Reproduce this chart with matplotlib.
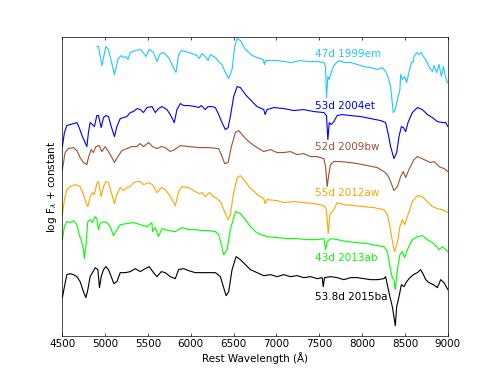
import numpy as np
import matplotlib
matplotlib.use('Agg')
import matplotlib.pyplot as plt

## 光谱数据 (波长 Å, log F + 常数)
wl_99em = [4904, 4923, 4963, 5010, 5040, 5110, 5150, 5188, 5215, 5243, 5267, 5294, 5352, 5411, 5437,
           5477, 5516, 5566, 5606, 5644, 5683, 5741, 5828, 5858, 5890, 5937, 6015, 6073, 6100, 6132,
           6170, 6202, 6229, 6287, 6326, 6365, 6404, 6443, 6482, 6513, 6541, 6579, 6638, 6716, 6774,
           6845, 6860, 6872, 6930, 7008, 7085, 7164, 7281, 7359, 7476, 7553, 7573, 7584, 7600, 7616,
           7631, 7663, 7701, 7728, 7787, 7865, 7943, 8020, 8099, 8177, 8235, 8274, 8301, 8332, 8364,
           8387, 8411, 8441, 8449, 8469, 8496, 8519, 8546, 8574, 8598, 8605, 8637, 8663, 8691, 8715,
           8742, 8780, 8820, 8839, 8870, 8897, 8925, 8948, 8975, 8995]
fl_99em = [289, 289, 270, 289, 286, 261, 276, 280, 278, 279, 276, 283, 285, 286, 284,
           279, 286, 283, 274, 282, 283, 278, 263, 281, 285, 284, 282, 280, 277, 282,
           279, 275, 281, 278, 274, 271, 263, 257, 266, 289, 297, 295, 286, 280, 278,
           276, 271, 275, 275, 275, 274, 273, 275, 274, 274, 273, 269, 238, 259, 256,
           261, 269, 273, 275, 273, 273, 271, 269, 268, 266, 268, 264, 259, 249, 223,
           226, 236, 246, 261, 256, 259, 253, 263, 273, 274, 279, 283, 281, 283, 279,
           276, 269, 264, 270, 263, 271, 259, 269, 258, 253]

wl_04et = [4502, 4526, 4554, 4592, 4631, 4671, 4698, 4736, 4788, 4806, 4826, 4853, 4876, 4904, 4923,
           4955, 4982, 5010, 5040, 5072, 5110, 5138, 5177, 5215, 5255, 5294, 5332, 5372, 5411, 5449,
           5489, 5547, 5586, 5624, 5664, 5722, 5761, 5808, 5839, 5878, 5917, 5975, 6053, 6092, 6123,
           6170, 6202, 6249, 6287, 6326, 6365, 6404, 6436, 6462, 6501, 6541, 6579, 6638, 6716, 6774,
           6852, 6868, 6891, 6968, 7085, 7202, 7319, 7436, 7553, 7584, 7600, 7616, 7639, 7670, 7709,
           7768, 7865, 7982, 8099, 8216, 8274, 8301, 8332, 8371, 8403, 8430, 8458, 8481, 8508, 8535,
           8586, 8645, 8703, 8761, 8820, 8878, 8936, 8975, 9000]
fl_04et = [189, 203, 210, 211, 212, 213, 208, 199, 189, 203, 213, 211, 209, 220, 220,
           208, 218, 220, 219, 209, 199, 209, 217, 218, 219, 223, 224, 227, 226, 223,
           228, 229, 223, 227, 229, 226, 221, 213, 226, 232, 230, 230, 229, 228, 230,
           226, 229, 229, 228, 221, 213, 206, 208, 219, 239, 249, 248, 241, 234, 229,
           226, 221, 226, 228, 227, 225, 226, 224, 223, 220, 196, 213, 211, 214, 220,
           221, 220, 219, 217, 215, 213, 203, 189, 177, 183, 199, 209, 208, 204, 213,
           223, 228, 226, 221, 218, 214, 213, 213, 209]

wl_09bw = [4502, 4534, 4572, 4631, 4671, 4709, 4748, 4788, 4806, 4838, 4865, 4893, 4931, 4963, 5001,
           5040, 5080, 5110, 5150, 5197, 5255, 5313, 5372, 5411, 5449, 5508, 5554, 5606, 5656, 5703,
           5761, 5811, 5878, 5975, 6092, 6209, 6326, 6365, 6396, 6436, 6474, 6521, 6559, 6618, 6676,
           6755, 6774, 6852, 6930, 7008, 7085, 7164, 7242, 7319, 7397, 7476, 7553, 7573, 7592, 7611,
           7631, 7670, 7748, 7865, 7943, 8060, 8177, 8254, 8294, 8332, 8371, 8411, 8449, 8481, 8508,
           8546, 8605, 8645, 8722, 8800, 8839, 8897, 8955, 9000]
fl_09bw = [166, 183, 187, 188, 185, 178, 173, 171, 178, 186, 183, 189, 190, 184, 189,
           184, 178, 173, 179, 185, 187, 189, 189, 192, 189, 193, 189, 187, 189, 188,
           184, 186, 190, 189, 188, 188, 187, 179, 172, 173, 189, 203, 205, 199, 194,
           189, 188, 184, 186, 183, 183, 184, 181, 182, 179, 179, 177, 169, 149, 161,
           171, 174, 174, 173, 172, 170, 168, 164, 161, 154, 145, 149, 159, 164, 158,
           166, 176, 179, 176, 173, 174, 169, 167, 164]

wl_12aw = [4502, 4526, 4554, 4592, 4651, 4709, 4748, 4776, 4799, 4826, 4853, 4876, 4904, 4923, 4955,
           4982, 5010, 5040, 5080, 5110, 5138, 5177, 5215, 5255, 5294, 5332, 5372, 5411, 5449, 5508,
           5554, 5606, 5656, 5703, 5761, 5820, 5858, 5898, 5975, 6053, 6100, 6132, 6170, 6217, 6267,
           6307, 6346, 6384, 6436, 6462, 6501, 6541, 6579, 6638, 6696, 6755, 6774, 6852, 6868, 6891,
           7008, 7085, 7202, 7319, 7436, 7553, 7584, 7604, 7623, 7639, 7670, 7709, 7787, 7904, 8020,
           8137, 8254, 8294, 8324, 8364, 8379, 8411, 8441, 8469, 8496, 8528, 8586, 8645, 8703, 8761,
           8820, 8878, 8936, 8995]
fl_12aw = [121, 136, 146, 149, 151, 149, 141, 133, 129, 139, 143, 141, 152, 154, 139,
           149, 154, 153, 141, 132, 141, 148, 145, 148, 149, 153, 154, 154, 151, 153,
           151, 143, 148, 146, 139, 130, 144, 149, 148, 144, 142, 143, 139, 143, 139,
           137, 134, 126, 116, 121, 143, 158, 160, 154, 147, 143, 141, 137, 132, 136,
           135, 133, 134, 133, 132, 130, 126, 102, 121, 123, 126, 133, 131, 130, 129,
           128, 126, 121, 109, 89, 84, 93, 109, 116, 111, 119, 134, 140, 139, 134,
           129, 127, 126, 123]

wl_13ab = [4502, 4526, 4554, 4592, 4631, 4671, 4698, 4721, 4748, 4759, 4776, 4799, 4826, 4853, 4885,
           4904, 4923, 4943, 4982, 5021, 5060, 5098, 5126, 5177, 5255, 5332, 5411, 5489, 5547, 5554,
           5586, 5624, 5664, 5741, 5820, 5898, 5975, 6053, 6132, 6209, 6287, 6326, 6357, 6384, 6424,
           6462, 6521, 6579, 6638, 6696, 6755, 6813, 6891, 7008, 7125, 7242, 7359, 7476, 7553, 7573,
           7592, 7631, 7709, 7826, 7943, 8060, 8177, 8254, 8294, 8324, 8352, 8371, 8387, 8411, 8441,
           8469, 8496, 8528, 8586, 8645, 8703, 8761, 8820, 8859, 8897, 8936, 8975, 9000]
fl_13ab = [96, 109, 114, 113, 115, 111, 101, 96, 86, 77, 89, 114, 116, 113, 119,
           117, 106, 112, 114, 113, 109, 100, 104, 111, 112, 113, 111, 109, 113, 104,
           108, 99, 107, 105, 104, 108, 106, 106, 105, 105, 104, 101, 91, 81, 86,
           106, 124, 122, 116, 109, 104, 101, 99, 98, 97, 97, 96, 96, 97, 86,
           94, 97, 96, 94, 93, 92, 90, 89, 84, 69, 58, 56, 46, 66, 81,
           84, 78, 86, 96, 99, 100, 96, 93, 90, 86, 89, 86, 84]

wl_15ba = [4502, 4526, 4554, 4592, 4631, 4671, 4709, 4748, 4776, 4799, 4826, 4853, 4885, 4916, 4935,
           4955, 4982, 5010, 5040, 5072, 5103, 5138, 5177, 5235, 5294, 5352, 5411, 5469, 5516, 5566,
           5606, 5656, 5703, 5761, 5820, 5858, 5917, 5975, 6053, 6132, 6209, 6287, 6346, 6384, 6412,
           6443, 6482, 6529, 6579, 6638, 6696, 6774, 6852, 6930, 7008, 7085, 7164, 7242, 7319, 7397,
           7476, 7534, 7546, 7561, 7631, 7709, 7787, 7865, 7943, 8020, 8099, 8177, 8254, 8274, 8301,
           8324, 8352, 8371, 8387, 8403, 8430, 8458, 8488, 8519, 8558, 8598, 8645, 8683, 8715, 8742,
           8780, 8832, 8878, 8917, 8955, 9000]
fl_15ba = [38, 49, 61, 62, 61, 59, 54, 44, 38, 46, 59, 63, 68, 66, 48,
           59, 66, 69, 66, 59, 52, 54, 63, 63, 64, 67, 64, 67, 69, 63,
           59, 64, 63, 59, 57, 66, 67, 65, 63, 63, 63, 63, 59, 48, 40,
           44, 66, 79, 76, 71, 66, 63, 60, 61, 59, 61, 59, 60, 58, 59,
           57, 58, 49, 58, 59, 58, 56, 58, 58, 57, 56, 56, 57, 59, 48,
           39, 29, 19, 10, 29, 39, 51, 49, 54, 58, 61, 63, 66, 61, 56,
           53, 51, 48, 56, 53, 46]

labels = ['47d 1999em', '53d 2004et', '52d 2009bw', '55d 2012aw', '43d 2013ab', '53.8d 2015ba']
label_y = [282, 230, 189, 143, 78, 39]
colors = ['#1ec8ff', 'blue', '#a0522d', 'orange', 'lime', 'black']

spectra = [(wl_99em, fl_99em), (wl_04et, fl_04et), (wl_09bw, fl_09bw),
           (wl_12aw, fl_12aw), (wl_13ab, fl_13ab), (wl_15ba, fl_15ba)]

#########   plot    ##########################
plt.rcParams['font.size'] = 12
fig = plt.figure(figsize=(8, 6), dpi=62.2)
ax = fig.add_axes([0.125, 0.1, 0.775, 0.8])

for (wl, fl), c, lab, ly in zip(spectra, colors, labels, label_y):
    ax.plot(wl, fl, color=c, linewidth=1.3)
    ax.text(7450, ly, lab, color=c, fontsize=12, va='center', ha='left')

ax.set_xlim(4500, 9000)
ax.set_ylim(0, 298.4)
ax.set_xticks(np.arange(4500, 9001, 500))
ax.set_yticks([])
ax.tick_params(direction='in', top=True, right=True, length=4, labelsize=12)
ax.set_xlabel('Rest Wavelength (Å)')
ax.set_ylabel(r'log F$_\lambda$ + constant')

fig.savefig('out.png', dpi=62.2)
